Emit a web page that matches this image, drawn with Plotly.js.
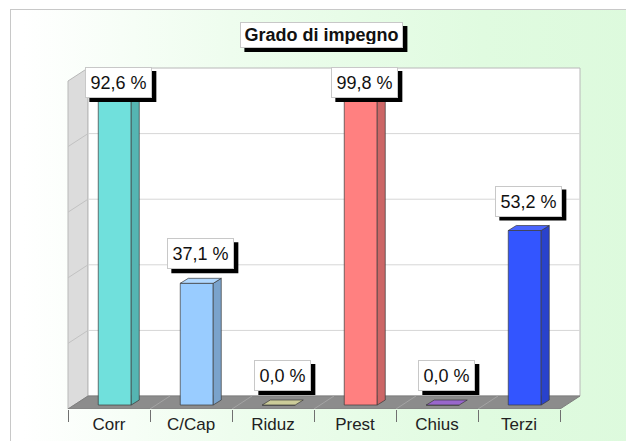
<!DOCTYPE html>
<html>
<head>
<meta charset="utf-8">
<script src="https://cdn.plot.ly/plotly-3.0.1.min.js"></script>
<style>
  html, body { margin: 0; padding: 0; background: #ffffff; }
  #frame { position: absolute; left: 10px; top: 9px; width: 630px; height: 450px;
           border-top: 1px solid #c8c8c8; border-left: 1px solid #c8c8c8;
           background: linear-gradient(to right, #ffffff 2%, #eefdee 35%, #e0fbe0 75%, #ddfadd 100%); }
  #chart { position: absolute; left: 0; top: 0; width: 626px; height: 441px; }
</style>
</head>
<body>
<div id="frame"></div>
<div id="chart"></div>
<script>
// ---- data ----
const categories = ['Corr', 'C/Cap', 'Riduz', 'Prest', 'Chius', 'Terzi'];
const values = [92.6, 37.1, 0.0, 99.8, 0.0, 53.2];
const valueLabels = values.map(v => v.toFixed(1).replace('.', ',') + ' %');
const titleText = 'Grado di impegno';

// ---- styles ----
const frontColors = ['#70e0dc', '#99ccff', '#cccc99', '#ff8080', '#9966cc', '#3355ff'];
const sideColors  = ['#55b5b2', '#7aa3cc', '#a3a37a', '#cc6666', '#7a52a3', '#2942cc'];
const topColors   = ['#8ae8e5', '#b0d8ff', '#d8d8aa', '#ff9a9a', '#aa80d8', '#4a66ff'];

// geometry (axis units: 1 x-unit = one category, 1 y-unit = 1 %)
const WDX = 0.244, WDY = 3.96;     // wall depth offset
const FX = 0.07, FY = 1.22;        // bar front-face offset
const HW = 0.201;                  // bar half width
const BDX = 0.098, BDY = 1.52;     // bar depth
const n = categories.length;
const xL = -0.5, xR = n - 0.5, yTop = 100;

const FONT = 'Liberation Sans, Arial, sans-serif';
const cv = document.createElement('canvas').getContext('2d');
function textWidth(t, size, bold) {
  cv.font = (bold ? 'bold ' : '') + size + 'px "Liberation Sans", Arial, sans-serif';
  return cv.measureText(t).width;
}

const shapes = [];
// left wall
shapes.push({type: 'path', layer: 'below', xref: 'x', yref: 'y',
  path: `M${xL},0 L${xL + WDX},${WDY} L${xL + WDX},${WDY + yTop} L${xL},${yTop} Z`,
  fillcolor: '#dcdcdc', line: {color: '#b8b8b8', width: 1}});
// back wall
shapes.push({type: 'path', layer: 'below', xref: 'x', yref: 'y',
  path: `M${xL + WDX},${WDY} L${xR + WDX},${WDY} L${xR + WDX},${WDY + yTop} L${xL + WDX},${WDY + yTop} Z`,
  fillcolor: '#ffffff', line: {color: '#b8b8b8', width: 1}});
// gridlines
[20, 40, 60, 80].forEach(g => {
  shapes.push({type: 'line', layer: 'below', xref: 'x', yref: 'y',
    x0: xL + WDX, x1: xR + WDX, y0: WDY + g, y1: WDY + g, line: {color: '#d6d6d6', width: 1}});
  shapes.push({type: 'line', layer: 'below', xref: 'x', yref: 'y',
    x0: xL, x1: xL + WDX, y0: g, y1: WDY + g, line: {color: '#c2c2c2', width: 1}});
});
// floor
shapes.push({type: 'path', layer: 'below', xref: 'x', yref: 'y',
  path: `M${xL},0 L${xR},0 L${xR + WDX},${WDY} L${xL + WDX},${WDY} Z`,
  fillcolor: '#8c8c8c', line: {color: '#7e7e7e', width: 1}});
for (let b = 1; b < n; b++) {
  shapes.push({type: 'line', layer: 'below', xref: 'x', yref: 'y',
    x0: xL + b, x1: xL + b + WDX, y0: 0, y1: WDY, line: {color: '#a4a4a4', width: 1}});
}

const traces = [];
// front faces
traces.push({type: 'bar', x: categories.map((c, i) => i + FX), y: values,
  base: values.map(() => FY), width: 2 * HW,
  marker: {color: frontColors, line: {color: '#3a3a3a', width: 0.7}},
  hoverinfo: 'skip', showlegend: false});
// side and top faces
values.forEach((v, i) => {
  const x0 = i + FX - HW, x1 = i + FX + HW;
  const y0 = FY, y1 = FY + v;
  if (v > 0) {
    traces.push({type: 'scatter', mode: 'lines', fill: 'toself',
      x: [x1, x1 + BDX, x1 + BDX, x1, x1], y: [y0, y0 + BDY, y1 + BDY, y1, y0],
      fillcolor: sideColors[i], line: {color: '#3a3a3a', width: 0.7},
      hoverinfo: 'skip', showlegend: false});
  }
  traces.push({type: 'scatter', mode: 'lines', fill: 'toself',
    x: [x0, x1, x1 + BDX, x0 + BDX, x0], y: [y1, y1, y1 + BDY, y1 + BDY, y1],
    fillcolor: v > 0 ? topColors[i] : frontColors[i], line: {color: '#3a3a3a', width: 0.7},
    hoverinfo: 'skip', showlegend: false});
});
// invisible trace for the boundary-tick axis
traces.push({type: 'scatter', mode: 'markers', x: [xL, xR], y: [0, 0], xaxis: 'x2',
  marker: {opacity: 0}, hoverinfo: 'skip', showlegend: false});

const annotations = [];
const LBL_SIZE = 18, LBL_H = 21, LBL_PAD = 4;
values.forEach((v, i) => {
  const ya = Math.min(FY + v + 4.27, 94.8);
  const xa = i + 0.12;
  const w = Math.round(textWidth(valueLabels[i], LBL_SIZE, false)) + 1;
  const W = w + 2 * LBL_PAD + 2, H = LBL_H + 2 * LBL_PAD + 2;
  // drop shadow
  shapes.push({type: 'rect', layer: 'above', xref: 'x', yref: 'y',
    xsizemode: 'pixel', ysizemode: 'pixel', xanchor: xa, yanchor: ya,
    x0: -W / 2 + 4, x1: W / 2 + 4, y0: -4, y1: H - 4,
    fillcolor: '#000000', line: {width: 0}});
  annotations.push({x: xa, y: ya, xref: 'x', yref: 'y', xanchor: 'center', yanchor: 'bottom',
    text: valueLabels[i], showarrow: false, width: w, height: LBL_H,
    borderpad: LBL_PAD, borderwidth: 1, bgcolor: '#ffffff', bordercolor: '#c8c8c8',
    font: {family: FONT, size: LBL_SIZE, color: '#111111'}});
});
// title box
const TX = 0.485, TY = 1.0716, T_SIZE = 18, T_H = 18, T_PAD = 3;
const tw = Math.round(textWidth(titleText, T_SIZE, true)) + 1;
const TW = tw + 2 * T_PAD + 2, TH = T_H + 2 * T_PAD + 2;
shapes.push({type: 'rect', layer: 'above', xref: 'paper', yref: 'paper',
  xsizemode: 'pixel', ysizemode: 'pixel', xanchor: TX, yanchor: TY,
  x0: -TW / 2 + 4, x1: TW / 2 + 4, y0: -TH / 2 - 4, y1: TH / 2 - 4,
  fillcolor: '#000000', line: {width: 0}});
annotations.push({xref: 'paper', yref: 'paper', x: TX, y: TY, xanchor: 'center', yanchor: 'middle',
  text: '<b>' + titleText + '</b>', showarrow: false, width: tw, height: T_H,
  borderpad: T_PAD, borderwidth: 1, bgcolor: '#ffffff', bordercolor: '#c8c8c8',
  font: {family: FONT, size: T_SIZE, color: '#111111'}});

const xRange = [(60 - 109) / 82, (600 - 109) / 82];
const layout = {
  width: 626, height: 441,
  margin: {l: 60, r: 26, t: 60, b: 32, pad: 0},
  paper_bgcolor: 'rgba(0,0,0,0)', plot_bgcolor: 'rgba(0,0,0,0)',
  showlegend: false, barmode: 'overlay',
  xaxis: {type: 'linear', range: xRange, tickvals: categories.map((c, i) => i), ticktext: categories,
    showgrid: false, zeroline: false, showline: false, ticks: '', ticklabelstandoff: 3,
    tickfont: {family: FONT, size: 17, color: '#222222'}, fixedrange: true},
  xaxis2: {type: 'linear', overlaying: 'x', anchor: 'y', side: 'bottom', range: xRange,
    tickvals: categories.map((c, i) => i - 0.5).concat([n - 0.5]),
    ticks: 'outside', ticklen: 12, tickwidth: 1, tickcolor: '#707070',
    showticklabels: false, showgrid: false, zeroline: false, showline: false, fixedrange: true},
  yaxis: {range: [0, (409 - 60) / 3.28], visible: false, fixedrange: true},
  shapes: shapes,
  annotations: annotations
};
Plotly.newPlot('chart', traces, layout, {displayModeBar: false, staticPlot: true});
</script>
</body>
</html>
